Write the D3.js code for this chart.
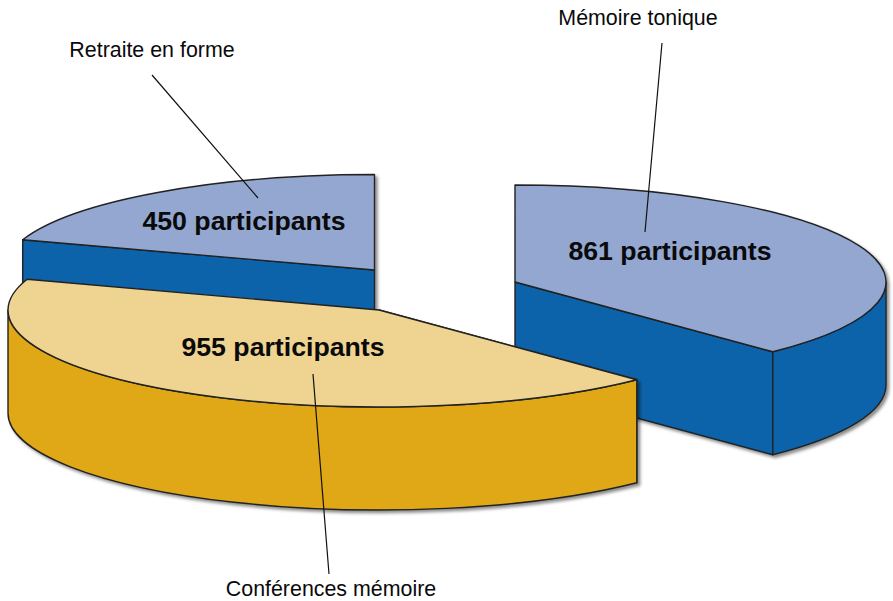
<!DOCTYPE html>
<html>
<head>
<meta charset="utf-8">
<title>Participants</title>
<script src="https://cdn.jsdelivr.net/npm/d3@7"></script>
<style>
  html, body { margin: 0; padding: 0; background: #fff; }
  svg { display: block; }
  text { font-family: "Liberation Sans", Arial, sans-serif; fill: #0a0a0a; }
  .name-label { font-size: 21.4px; }
  .value-label { font-size: 26.7px; font-weight: bold; }
</style>
</head>
<body>
<div id="canvas"></div>
<script>
'use strict';

var CATEGORIES = ['Mémoire tonique', 'Conférences mémoire', 'Retraite en forme'];
var PARTICIPANTS = [861, 955, 450];
var VALUE_SUFFIX = ' participants';

// Constants for displaying. Unit is pixel.
var WIDTH = 893;
var HEIGHT = 601;
var RX = 371;
var RY = [97, 97, 95.5];
var DEPTH = 103;
var CENTERS = [[515, 282], [379, 310], [374.5, 270]];
var TOP_COLORS = ['#93a7d1', '#efd391', '#93a7d1'];
var SIDE_COLORS = ['#0763aa', '#e0a814', '#0763aa'];
var DRAW_ORDER = [2, 0, 1];
var NAME_POS = [[638, 25], [331, 596], [152, 57]];
var VALUE_POS = [[670, 260], [283, 356], [244, 230]];
var LEADERS = [[[662, 43], [645, 232]], [[313, 374], [329, 574]], [[152, 75], [258, 198]]];

// the drawn cut between the first two slices sits a little before the true share
var CUT_SHIFT = 0.014;

var pie = d3.pie().sort(null);
var slices = pie(PARTICIPANTS);
slices[0].endAngle -= CUT_SHIFT;
slices[1].startAngle -= CUT_SHIFT;

var svg = d3.select('#canvas').append('svg')
  .attr('width', WIDTH)
  .attr('height', HEIGHT);

// soft shadow around the slices
var shadow = svg.append('defs').append('filter')
  .attr('id', 'softShadow')
  .attr('x', '-5%').attr('y', '-5%')
  .attr('width', '110%').attr('height', '115%');
shadow.append('feDropShadow')
  .attr('dx', 2.5)
  .attr('dy', 2.5)
  .attr('stdDeviation', 1.6)
  .attr('flood-color', '#000')
  .attr('flood-opacity', 0.45);

function rimPoint(i, t, drop) {
  return [CENTERS[i][0] + RX * Math.sin(t), CENTERS[i][1] - RY[i] * Math.cos(t) + (drop || 0)];
}

function ellipseTo(i, p, largeArc, sweep) {
  return 'A' + RX + ',' + RY[i] + ' 0 ' + (largeArc ? 1 : 0) + ' ' + sweep + ' ' + p.join(',');
}

function topPath(i) {
  var d = slices[i];
  return 'M' + CENTERS[i].join(',') + 'L' + rimPoint(i, d.startAngle).join(',') +
    ellipseTo(i, rimPoint(i, d.endAngle), d.endAngle - d.startAngle > Math.PI, 1) + 'Z';
}

// wall along the rim, only the part that faces the viewer (t between 90 and 270 degrees)
function rimWallPath(i) {
  var from = Math.max(slices[i].startAngle, Math.PI / 2);
  var to = Math.min(slices[i].endAngle, Math.PI * 1.5);
  if (to <= from) return '';
  return 'M' + rimPoint(i, from).join(',') +
    ellipseTo(i, rimPoint(i, to), false, 1) +
    'L' + rimPoint(i, to, DEPTH).join(',') +
    ellipseTo(i, rimPoint(i, from, DEPTH), false, 0) + 'Z';
}

// flat wall between the center and one end of the slice
function cutWallPath(i) {
  var center = CENTERS[i];
  var p = rimPoint(i, i === 0 ? slices[i].endAngle : slices[i].startAngle);
  return 'M' + center.join(',') + 'L' + p.join(',') +
    'L' + [p[0], p[1] + DEPTH].join(',') +
    'L' + [center[0], center[1] + DEPTH].join(',') + 'Z';
}

var pieces = svg.append('g')
  .selectAll('g')
  .data(DRAW_ORDER)
  .enter()
  .append('g')
  .style('filter', 'url(#softShadow)')
  .attr('stroke', '#222')
  .attr('stroke-width', 1.4)
  .attr('stroke-linejoin', 'round');

pieces.append('path')
  .attr('d', cutWallPath)
  .style('fill', function(i) { return SIDE_COLORS[i]; });

pieces.append('path')
  .attr('d', rimWallPath)
  .style('fill', function(i) { return SIDE_COLORS[i]; });

pieces.append('path')
  .attr('d', topPath)
  .style('fill', function(i) { return TOP_COLORS[i]; });

svg.append('g')
  .selectAll('line')
  .data(LEADERS)
  .enter()
  .append('line')
  .attr('x1', function(d) { return d[0][0]; })
  .attr('y1', function(d) { return d[0][1]; })
  .attr('x2', function(d) { return d[1][0]; })
  .attr('y2', function(d) { return d[1][1]; })
  .style('stroke', '#111')
  .style('stroke-width', 1.2);

svg.append('g')
  .selectAll('text')
  .data(CATEGORIES)
  .enter()
  .append('text')
  .classed('name-label', true)
  .attr('text-anchor', 'middle')
  .attr('x', function(d, i) { return NAME_POS[i][0]; })
  .attr('y', function(d, i) { return NAME_POS[i][1]; })
  .text(function(d) { return d; });

svg.append('g')
  .selectAll('text')
  .data(PARTICIPANTS)
  .enter()
  .append('text')
  .classed('value-label', true)
  .attr('text-anchor', 'middle')
  .attr('x', function(d, i) { return VALUE_POS[i][0]; })
  .attr('y', function(d, i) { return VALUE_POS[i][1]; })
  .text(function(d) { return d + VALUE_SUFFIX; });
</script>
</body>
</html>
